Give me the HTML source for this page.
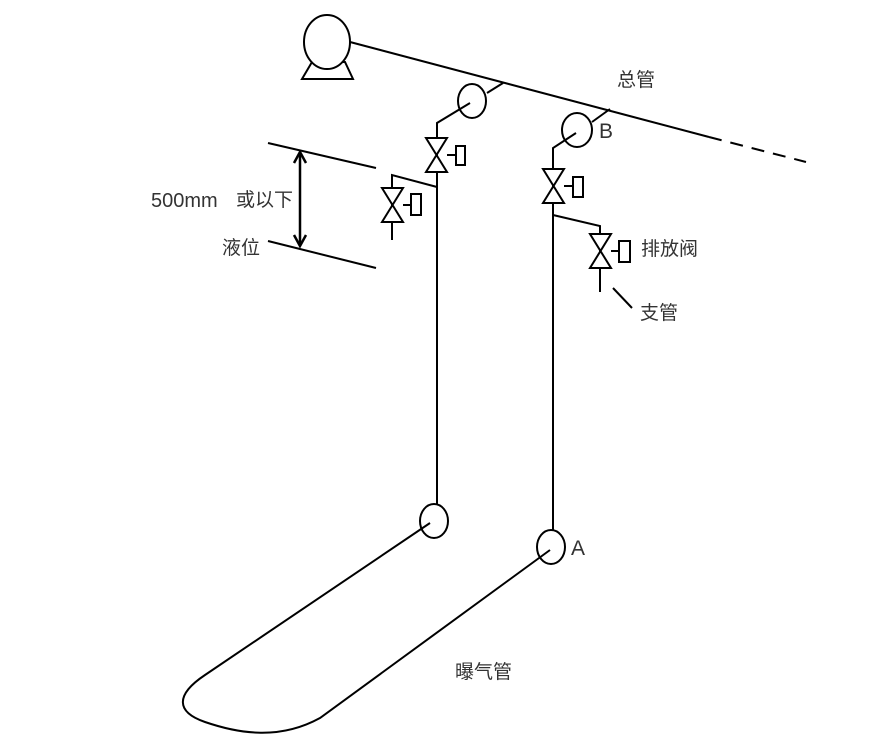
<!DOCTYPE html>
<html><head><meta charset="utf-8"><style>
html,body{margin:0;padding:0;background:#fff;}
svg{display:block;}
text{font-family:"Liberation Sans","Noto Sans CJK SC",sans-serif;fill:#333;}
</style></head><body>
<svg width="892" height="748" viewBox="0 0 892 748" xmlns="http://www.w3.org/2000/svg">
<g fill="none" stroke="#000" stroke-width="2">
<polygon points="312,62 302,79 353,79 345,62" fill="#fff"/>
<ellipse cx="327" cy="42" rx="23" ry="27" fill="#fff"/>
<line x1="350" y1="42" x2="709" y2="137"/>
<line x1="709" y1="137" x2="806" y2="162" stroke-dasharray="13,9"/>
<line x1="503" y1="83" x2="487" y2="93"/>
<ellipse cx="472" cy="101" rx="14" ry="17"/>
<polyline points="470,103 437,123 437,505"/>
<polygon points="426,138 447,138 426,172 447,172" fill="#fff"/>
<line x1="447" y1="155" x2="456" y2="155"/>
<rect x="456" y="146" width="9" height="19"/>
<polyline points="437,187 392,175 392,240"/>
<polygon points="382,188 403,188 382,222 403,222" fill="#fff"/>
<line x1="403" y1="205" x2="411" y2="205"/>
<rect x="411" y="194" width="10" height="21"/>
<line x1="610" y1="109" x2="592" y2="122"/>
<ellipse cx="577" cy="130" rx="15" ry="17"/>
<polyline points="576,133 553,148 553,530"/>
<polygon points="543,169 564,169 543,203 564,203" fill="#fff"/>
<line x1="564" y1="186" x2="573" y2="186"/>
<rect x="573" y="177" width="10" height="20"/>
<polyline points="553,215 600,226 600,292"/>
<polygon points="590,234 611,234 590,268 611,268" fill="#fff"/>
<line x1="611" y1="251" x2="619" y2="251"/>
<rect x="619" y="241" width="11" height="21"/>
<line x1="613" y1="288" x2="632" y2="308"/>
<line x1="268" y1="143" x2="376" y2="168"/>
<line x1="268" y1="241" x2="376" y2="268"/>
<line x1="300" y1="152" x2="300" y2="246" stroke-width="2.5"/>
<polyline points="294,163 300,152 306,163" stroke-width="2.5"/>
<polyline points="294,235 300,246 306,235" stroke-width="2.5"/>
<ellipse cx="434" cy="521" rx="14" ry="17"/>
<ellipse cx="551" cy="547" rx="14" ry="17"/>
<path d="M430,523 L205,675 C175,695 176,712 205,722 C240,734 280,740 320,718 L550,550"/>
</g>
<g font-size="19">
<text x="151" y="207" font-size="20">500mm</text>
<text x="236" y="206">或以下</text>
<text x="222" y="254">液位</text>
<text x="617" y="86">总管</text>
<text x="641" y="255">排放阀</text>
<text x="640" y="319">支管</text>
<text x="455" y="678">曝气管</text>
<text x="599" y="138" font-size="21" fill="#000">B</text>
<text x="571" y="555" font-size="21" fill="#000">A</text>
</g>
</svg>
</body></html>
